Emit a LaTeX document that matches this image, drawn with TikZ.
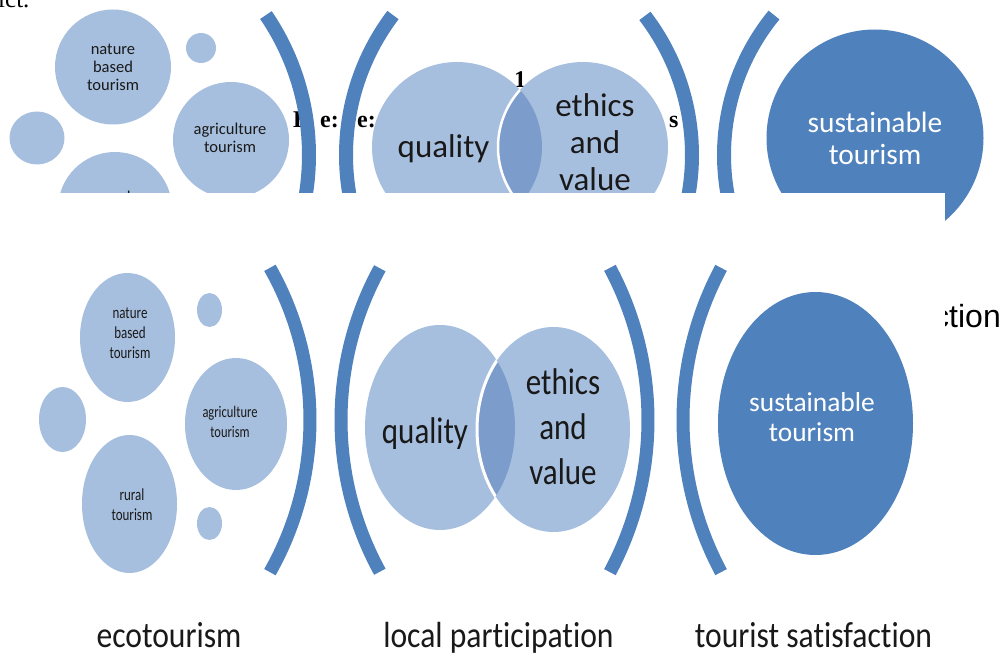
\documentclass[tikz,border=0pt]{standalone}
\usepackage{fontspec}
\usepackage{tikz}
\usetikzlibrary{shapes.geometric}
\setmainfont{Carlito}[Ligatures={NoCommon}]
\newfontfamily\bodyserif{Liberation Serif}
\newfontfamily\bodysans{Liberation Sans}
\definecolor{ecoBlue}{RGB}{79,129,189}
\definecolor{ecoPale}{RGB}{167,191,222}
\definecolor{ecoLens}{RGB}{124,157,204}
\definecolor{ecoInk}{RGB}{25,25,25}

\begin{document}
\begin{tikzpicture}[x=1pt, y=-1pt,
    bubble/.style={ellipse, inner sep=0pt, fill=ecoPale},
    hub/.style={ellipse, inner sep=0pt, fill=ecoBlue},
    bracket/.style={ecoBlue, line width=13pt},
    hiSmall/.style={font=\fontsize{16.5}{18}\selectfont, align=center, text=ecoInk},
    hiBig/.style={font=\fontsize{33}{37}\selectfont, align=center, text=ecoInk},
    hiHub/.style={font=\fontsize{29.4}{32}\selectfont, align=center, text=white},
    loSmall/.style={font=\fontsize{13}{15.4}\selectfont, align=center, text=ecoInk, yscale=1.3},
    loBig/.style={font=\fontsize{31}{37.5}\selectfont, align=center, text=ecoInk, yscale=1.2},
    loHub/.style={font=\fontsize{27.4}{30}\selectfont, align=center, text=white},
    caption/.style={font=\fontsize{31.6}{36}\selectfont, anchor=base, text=black!90, yscale=1.15},
    scrap/.style={font=\bodyserif\bfseries\fontsize{24}{28}\selectfont, anchor=base west, inner sep=0pt}]

    \useasboundingbox (0,0) rectangle (1005,655);

    % words of the page lying behind the figure
    \node[scrap, font=\bodyserif\fontsize{25}{28}\selectfont] (ict) at (-2,8) {ict.};
    \node[scrap] (capH) at (293,128) {H};
    \node[scrap] (frE1) at (320,128) {e:};
    \node[scrap] (frE2) at (357,128) {e:};
    \node[scrap] (frOne) at (514,88) {1};
    \node[scrap] (frS) at (669,128) {s};
    \node[anchor=base east, inner sep=0pt, font=\bodysans\fontsize{32}{36}\selectfont] (ction) at (1001,328) {ction};

    % upper copy of the figure, cut off at the fold
    \node[bubble, minimum width=116pt, minimum height=115pt] (natHi) at (113,67) {};
    \node[bubble, minimum size=30pt] (dotHiA) at (201,48) {};
    \node[bubble, minimum width=55pt, minimum height=53pt] (dotHiB) at (37,138) {};
    \node[bubble, minimum size=116pt] (agriHi) at (231,140) {};
    \node[bubble, minimum size=114pt] (ruralHi) at (115,209) {};
    \node[bubble, minimum size=170pt] (qualHi) at (457,147) {};
    \node[bubble, minimum size=170pt] (ethHi) at (583,147) {};
    \begin{scope}
        \clip (qualHi.center) circle (85pt);
        \fill[ecoLens] (ethHi.center) circle (85pt);
        \draw[white, line width=2.5pt] (ethHi.center) circle (85pt);
    \end{scope}
    \node[hub, minimum size=217pt] (sustHi) at (875,138) {};

    \draw[bracket, line width=14pt] (60,155) ++(34.2:249pt) arc[start angle=34.2, end angle=-34.2, radius=249pt];
    \draw[bracket, line width=14pt] (578,155) ++(142.9:232pt) arc[start angle=142.9, end angle=217.1, radius=232pt];
    \draw[bracket, line width=14pt] (463,155) ++(37.4:229pt) arc[start angle=37.4, end angle=-37.4, radius=229pt];
    \draw[bracket, line width=14pt] (945,155) ++(140.7:221pt) arc[start angle=140.7, end angle=219.3, radius=221pt];

    \node[hiSmall] (natHiTxt) at (113,67) {nature\\based\\tourism};
    \node[hiSmall] (agriHiTxt) at (230,138) {agriculture\\tourism};
    \node[hiSmall] (ruralHiTxt) at (115,206) {rural\\tourism};
    \node[hiBig] (qualHiTxt) at (443.5,148.6) {quality};
    \node[hiBig] (ethHiTxt) at (595,142.5) {ethics\\and\\value};
    \node[hiHub] (sustHiTxt) at (875,138.7) {sustainable\\tourism};

    % lower copy sits on a white sheet
    \fill[white] (-5,193) rectangle (945,660);

    \node[bubble, minimum width=95pt, minimum height=129pt] (natLo) at (127.5,337.5) {};
    \node[bubble, minimum width=25pt, minimum height=34pt] (dotLoA) at (209.5,310) {};
    \node[bubble, minimum width=47pt, minimum height=65pt] (dotLoB) at (62.5,419.5) {};
    \node[bubble, minimum width=102pt, minimum height=132pt] (agriLo) at (236,424) {};
    \node[bubble, minimum width=95pt, minimum height=138pt] (ruralLo) at (129.5,504) {};
    \node[bubble, minimum width=25pt, minimum height=33pt] (dotLoC) at (209.5,523.5) {};
    \node[bubble, minimum width=150pt, minimum height=205pt] (qualLo) at (440,427.5) {};
    \node[bubble, minimum width=153pt, minimum height=205pt] (ethLo) at (553.5,429.5) {};
    \begin{scope}
        \clip (qualLo.center) ellipse [x radius=75pt, y radius=102.5pt];
        \fill[ecoLens] (ethLo.center) ellipse [x radius=76.5pt, y radius=102.5pt];
        \draw[white, line width=3pt] (ethLo.center) ellipse [x radius=76.5pt, y radius=102.5pt];
    \end{scope}
    \node[hub, minimum width=195pt, minimum height=263pt] (sustLo) at (815.5,423.5) {};

    \draw[bracket] (1,420) ++(29.5:309pt) arc[start angle=29.5, end angle=-29.5, radius=309pt];
    \draw[bracket] (657,420) ++(151.3:316pt) arc[start angle=151.3, end angle=208.7, radius=316pt];
    \draw[bracket] (325,420) ++(28.1:323pt) arc[start angle=28.1, end angle=-28.1, radius=323pt];
    \draw[bracket] (1006,420) ++(151.9:323pt) arc[start angle=151.9, end angle=208.1, radius=323pt];

    \node[loSmall] (natLoTxt) at (130,333) {nature\\based\\tourism};
    \node[loSmall, font=\fontsize{12.5}{15.4}\selectfont] (agriLoTxt) at (230,421.5) {agriculture\\tourism};
    \node[loSmall] (ruralLoTxt) at (132,504.5) {rural\\tourism};
    \node[loBig] (qualLoTxt) at (425,433.5) {quality};
    \node[loBig] (ethLoTxt) at (563,427) {ethics\\and\\value};
    \node[loHub] (sustLoTxt) at (812,417.5) {sustainable\\tourism};

    \node[caption] (ecoCap) at (169,647) {ecotourism};
    \node[caption] (localCap) at (498.5,647) {local participation};
    \node[caption] (touristCap) at (813.5,647) {tourist satisfaction};
\end{tikzpicture}
\end{document}
